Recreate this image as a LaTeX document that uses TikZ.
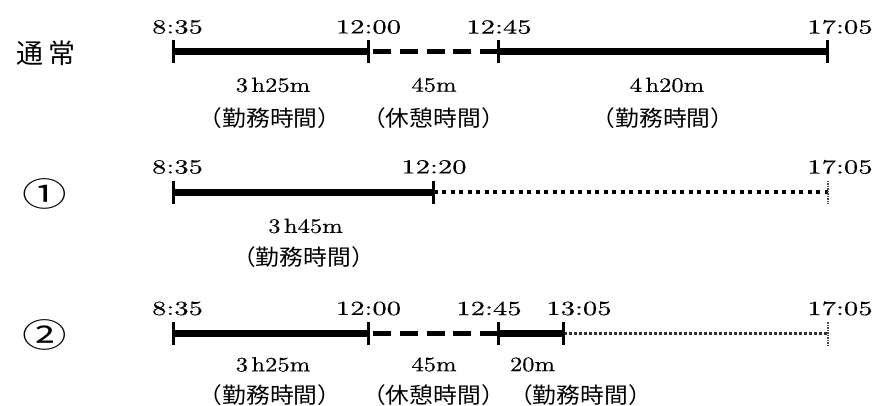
\documentclass[tikz,border=0pt]{standalone}
\usepackage{fontspec}
\newfontfamily\timefont{lmroman10-regular.otf}[FakeStretch=1.43,FakeBold=0.4]
\newfontfamily\durfont{lmroman10-regular.otf}[FakeStretch=1.2,FakeBold=0.4]
\newfontfamily\jpfont{Noto Sans CJK JP}[FakeStretch=1.08]
\newfontfamily\titlefont{Noto Sans CJK JP}
\newfontfamily\circfont{Noto Sans CJK JP}[FakeStretch=1.35]
\begin{document}
\begin{tikzpicture}[x=1pt,y=-1pt,
  tl/.style={font=\timefont\fontsize{20}{24}\selectfont, inner sep=0pt},
  dl/.style={font=\durfont\fontsize{20.5}{24}\selectfont, inner sep=0pt},
  jl/.style={font=\jpfont\fontsize{22}{26}\selectfont, inner sep=0pt},
  rowlabel/.style={font=\titlefont\fontsize{27}{30}\selectfont, inner sep=0pt},
  circlabel/.style={font=\circfont\fontsize{33}{36}\selectfont, inner sep=0pt},
  work/.style={line width=7pt},
  brk/.style={line width=5pt, dash pattern=on 18pt off 8.75pt, dash phase=21.75pt},
  idle/.style={line width=3.5pt, dash pattern=on 4pt off 4.5pt},
  idlelight/.style={line width=2.5pt, black!80, dash pattern=on 3pt off 2pt},
  tk/.style={line width=3pt},
  tkdot/.style={line width=2pt, black!70, dash pattern=on 1.5pt off 1pt}
]
\useasboundingbox (0,0) rectangle (873,405);

% ---------- Row 1 ----------
\node[rowlabel] (lab1) at (46,53) {通\hspace{5pt}常};
\coordinate (a1) at (173.5,51.5);
\coordinate (b1) at (368,51.5);
\coordinate (c1) at (498,51.5);
\coordinate (d1) at (827.5,51.5);
\draw[work] (a1) -- (b1);
\draw[brk] (b1) -- (c1);
\draw[work] (c1) -- (d1);
\foreach \p in {a1,b1,c1,d1} \draw[tk] (\p) ++(0,-11.5) -- ++(0,23);
\node[tl] (t1a) at (177.5,27) {8:35};
\node[tl] (t1b) at (368.5,27) {12:00};
\node[tl] (t1c) at (499,27) {12:45};
\node[tl] (t1d) at (840,27) {17:05};
\node[dl] (d1a) at (273,85) {3\,h25m};
\node[jl] (j1a) at (270,118) {（勤務時間）};
\node[dl] (d1b) at (434,85) {45m};
\node[jl] (j1b) at (433.5,118) {（休憩時間）};
\node[dl] (d1c) at (667,85) {4\,h20m};
\node[jl] (j1c) at (663,118) {（勤務時間）};

% ---------- Row 2 ----------
\node[circlabel] (lab2) at (44.5,194) {①};
\coordinate (a2) at (173.5,192);
\coordinate (e2) at (433.5,192);
\coordinate (d2) at (827.5,192);
\draw[work] (a2) -- (e2);
\draw[idle] (e2) -- (d2);
\foreach \p in {a2,e2} \draw[tk] (\p) ++(0,-11.5) -- ++(0,23);
\draw[tkdot] (d2) ++(0,-11.5) -- ++(0,23);
\node[tl] (t2a) at (177.5,167) {8:35};
\node[tl] (t2b) at (434,167) {12:20};
\node[tl] (t2c) at (840,167) {17:05};
\node[dl] (d2a) at (305.5,226) {3\,h45m};
\node[jl] (j2a) at (303.5,257) {（勤務時間）};

% ---------- Row 3 ----------
\node[circlabel] (lab3) at (44.5,335) {②};
\coordinate (a3) at (173.5,333.5);
\coordinate (b3) at (368,333.5);
\coordinate (c3) at (498,333.5);
\coordinate (f3) at (563.5,333.5);
\coordinate (d3) at (827.5,333.5);
\draw[work] (a3) -- (b3);
\draw[brk] (b3) -- (c3);
\draw[work] (c3) -- (f3);
\draw[idlelight] (f3) -- (d3);
\foreach \p in {a3,b3,c3,f3} \draw[tk] (\p) ++(0,-11.5) -- ++(0,23);
\draw[tkdot] (d3) ++(0,-11.5) -- ++(0,23);
\node[tl] (t3a) at (177.5,308.5) {8:35};
\node[tl] (t3b) at (368.5,308.5) {12:00};
\node[tl] (t3c) at (489,308.5) {12:45};
\node[tl] (t3d) at (579,308.5) {13:05};
\node[tl] (t3e) at (840,308.5) {17:05};
\node[dl] (d3a) at (273,364.5) {3\,h25m};
\node[jl] (j3a) at (270,395) {（勤務時間）};
\node[dl] (d3b) at (434,364.5) {45m};
\node[jl] (j3b) at (433.5,395) {（休憩時間）};
\node[dl] (d3c) at (532.5,364.5) {20m};
\node[jl] (j3c) at (580.5,395) {（勤務時間）};
\end{tikzpicture}
\end{document}
